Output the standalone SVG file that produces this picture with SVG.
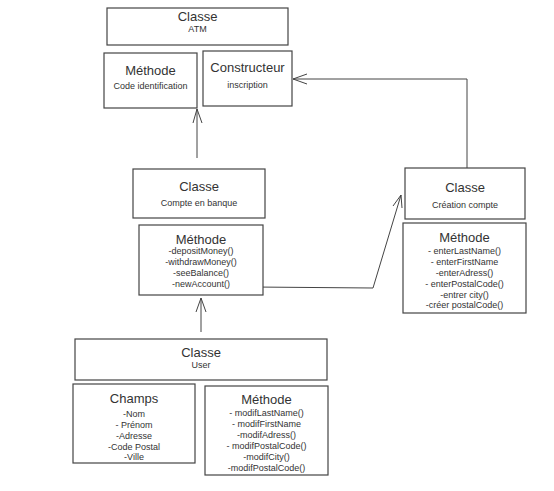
<svg xmlns="http://www.w3.org/2000/svg" width="554" height="491" viewBox="0 0 554 491">
<defs>
<style>
.box{fill:#fff;stroke:#444;stroke-width:1.2}
.t{font-family:"Liberation Sans",Arial,sans-serif;font-size:13px;fill:#333;text-anchor:middle}
.s{font-family:"Liberation Sans",Arial,sans-serif;font-size:9px;fill:#333;text-anchor:middle}
.c{fill:none;stroke:#444;stroke-width:1}
</style>
</defs>
<rect width="554" height="491" fill="#fff"/>
<g id="connectors">
<path class="c" d="M467,168 V79 H293"/>
<path class="c" d="M307,74 L293,79 L307,84"/>
<path class="c" d="M197,158 V109"/>
<path class="c" d="M193,123 L197,109 L202,123"/>
<path class="c" d="M253,287 L373,288 L401,195"/>
<path class="c" d="M393,206 L401,195 L402,208"/>
<path class="c" d="M201,332 V298"/>
<path class="c" d="M196,312 L201,298 L206,312"/>
</g>
<g id="classe-atm">
<rect class="box" x="107" y="8" width="181" height="37"/>
<text class="t" x="197.5" y="21">Classe</text>
<text class="s" x="197.5" y="32">ATM</text>
</g>
<g id="methode-atm">
<rect class="box" x="104" y="53" width="93" height="55"/>
<text class="t" x="150.5" y="75">Méthode</text>
<text class="s" x="150.5" y="89">Code identification</text>
</g>
<g id="constructeur">
<rect class="box" x="203" y="51" width="89" height="55"/>
<text class="t" x="247.5" y="72">Constructeur</text>
<text class="s" x="247.5" y="88">inscription</text>
</g>
<g id="classe-compte">
<rect class="box" x="133" y="169" width="132" height="49"/>
<text class="t" x="199" y="191">Classe</text>
<text class="s" x="199" y="206">Compte en banque</text>
</g>
<g id="methode-compte">
<rect class="box" x="139" y="225" width="124" height="70"/>
<text class="t" x="201" y="244">Méthode</text>
<text class="s" x="201" y="254">-depositMoney()</text>
<text class="s" x="201" y="265">-withdrawMoney()</text>
<text class="s" x="201" y="276">-seeBalance()</text>
<text class="s" x="201" y="287">-newAccount()</text>
</g>
<g id="classe-creation">
<rect class="box" x="405" y="168" width="120" height="51"/>
<text class="t" x="465" y="192">Classe</text>
<text class="s" x="465" y="208">Création compte</text>
</g>
<g id="methode-creation">
<rect class="box" x="403" y="223" width="123" height="90"/>
<text class="t" x="464.5" y="242">Méthode</text>
<text class="s" x="464.5" y="254">- enterLastName()</text>
<text class="s" x="464.5" y="265">- enterFirstName</text>
<text class="s" x="464.5" y="276">-enterAdress()</text>
<text class="s" x="464.5" y="287">- enterPostalCode()</text>
<text class="s" x="464.5" y="298">-entrer city()</text>
<text class="s" x="464.5" y="308">-créer postalCode()</text>
</g>
<g id="classe-user">
<rect class="box" x="75" y="339" width="252" height="41"/>
<text class="t" x="201" y="357">Classe</text>
<text class="s" x="201" y="368">User</text>
</g>
<g id="champs">
<rect class="box" x="73" y="384" width="122" height="79"/>
<text class="t" x="134" y="403">Champs</text>
<text class="s" x="134" y="417">-Nom</text>
<text class="s" x="134" y="428">- Prénom</text>
<text class="s" x="134" y="439">-Adresse</text>
<text class="s" x="134" y="450">-Code Postal</text>
<text class="s" x="134" y="460">-Ville</text>
</g>
<g id="methode-user">
<rect class="box" x="205" y="386" width="123" height="89"/>
<text class="t" x="266.5" y="404">Méthode</text>
<text class="s" x="266.5" y="416">- modifLastName()</text>
<text class="s" x="266.5" y="427">- modifFirstName</text>
<text class="s" x="266.5" y="438">-modifAdress()</text>
<text class="s" x="266.5" y="449">- modifPostalCode()</text>
<text class="s" x="266.5" y="460">-modifCity()</text>
<text class="s" x="266.5" y="471">-modifPostalCode()</text>
</g>
</svg>
